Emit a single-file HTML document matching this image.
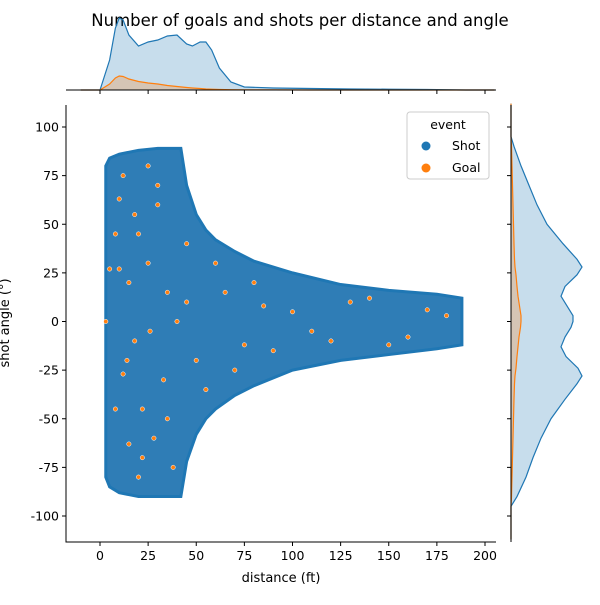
<!DOCTYPE html>
<html><head><meta charset="utf-8"><style>
body{margin:0;background:#fff}
svg text{font-family:"DejaVu Sans","Liberation Sans",sans-serif;fill:#000}
</style></head><body>
<svg width="600" height="600" xmlns="http://www.w3.org/2000/svg">
<text x="300" y="26" font-size="16.5" text-anchor="middle">Number of goals and shots per distance and angle</text>
<g id="main"></g>
<g id="topm"></g>
<g id="rightm"></g>
</svg>
<script>
const xTicks=[0,25,50,75,100,125,150,175,200];
const yTicks=[100,75,50,25,0,-25,-50,-75,-100];
const envDist=[3,5,10,20,30,42,45,50,55,60,70,80,100,125,150,175,188];
const envUpper=[80,84,86,88,89,89,70,55,47,42,36,31,25,19,16,14,12];
const envLower=[-80,-85,-88,-90,-90,-90,-72,-58,-50,-45,-38,-33,-25,-20,-17,-14,-12];
const goalDist=[3,5,8,10,12,15,18,20,22,25,28,30,33,35,38,40,12,15,20,25,30,35,45,50,60,70,80,90,100,120,140,160,180,45,55,65,75,85,110,130,150,170,8,10,14,18,22,26];
const goalAng=[0,27,45,63,75,20,-10,45,-45,30,-60,60,-30,15,-75,0,-27,-63,-80,80,70,-50,10,-20,30,-25,20,-15,5,-10,12,-8,3,40,-35,15,-12,8,-5,10,-12,6,-45,27,-20,55,-70,-5];
const kdeX=[-10,0,5,8,10,12,15,20,25,30,35,40,45,48,52,55,58,62,68,75,90,110,130,150,170,190,205];
const kdeShot=[0,0,30,62,72,70,55,44,48,50,54,55,46,44,48,48,40,22,8,3,2,1.5,1,0.8,0.5,0,0];
const kdeGoal=[0,0,6,12,14,13.5,11,8.5,7,6,4.5,3.5,2.5,2,1.5,1,0.8,0.5,0.3,0.2,0.1,0,0,0,0,0,0];
const kdeY=[112,95,90,80,70,60,50,40,32,28,24,18,13,8,3,0,-3,-8,-13,-18,-24,-28,-32,-40,-50,-60,-70,-80,-90,-95,-112];
const kdeShotR=[0,0,3,10,18,26,36,52,66,71,66,54,50,56,62,62,60,54,50,55,67,71,66,54,40,30,22,15,6,0,0];
const kdeGoalR=[0,0,0.5,1,1.5,2,2.5,3,3.5,4,5,6,7,8.5,10,10,9.5,8,7,6,5,4,3.5,3,2.5,2,1.5,1,0.5,0,0];
const NS="http://www.w3.org/2000/svg";
function mk(p,t,a){const e=document.createElementNS(NS,t);for(const k in a)e.setAttribute(k,a[k]);p.appendChild(e);return e;}
const X0=66,X1=496,Y0=105,Y1=542;
const sx=d=>100+d*1.925, sy=a=>321.5-a*1.945;
const mainG=document.getElementById('main');
let pts=envDist.map((d,i)=>sx(d)+','+sy(envUpper[i]));
for(let i=envDist.length-1;i>=0;i--)pts.push(sx(envDist[i])+','+sy(envLower[i]));
const env=mk(mainG,'polygon',{points:pts.join(' '),fill:'#2f7db6',stroke:'#1f77b4','stroke-width':3});


goalDist.forEach((d,i)=>{const c=mk(mainG,'circle',{cx:sx(d),cy:sy(goalAng[i]),r:2.2,fill:'#ff7f0e',stroke:'#fff','stroke-width':0.5});

});
const fr=mk(mainG,'path',{d:`M${X0},${Y0}V${Y1}H${X1}`,fill:'none',stroke:'#000','stroke-width':1});


xTicks.forEach(t=>{const x=sx(t);mk(mainG,'line',{x1:x,x2:x,y1:Y1,y2:Y1+4,stroke:'#000'});
const tx=mk(mainG,'text',{x:x,y:Y1+18,'font-size':12.5,'text-anchor':'middle'});tx.textContent=t;

});
yTicks.forEach(t=>{const y=sy(t);mk(mainG,'line',{x1:X0-4,x2:X0,y1:y,y2:y,stroke:'#000'});
const tx=mk(mainG,'text',{x:X0-7,y:y+4.5,'font-size':12.5,'text-anchor':'end'});tx.textContent=t;

});
const xl=mk(mainG,'text',{x:281,y:582,'font-size':13,'text-anchor':'middle'});xl.textContent='distance (ft)';


const yl=mk(mainG,'text',{x:9,y:323,'font-size':13,'text-anchor':'middle',transform:'rotate(-90 9 323)'});yl.textContent='shot angle (°)';


const lg=mk(mainG,'g',{});


mk(lg,'rect',{x:407,y:112,width:82,height:67,rx:3,fill:'#fff','fill-opacity':0.8,stroke:'#ccc'});
mk(lg,'text',{x:448,y:129,'font-size':12.5,'text-anchor':'middle'}).textContent='event';
[['Shot','#1f77b4',150],['Goal','#ff7f0e',172]].forEach(([n,c,y])=>{mk(lg,'circle',{cx:426,cy:y-4,r:4.5,fill:c});
const t=mk(lg,'text',{x:452,y:y,'font-size':12.5});t.textContent=n;

});
const topG=document.getElementById('topm');const TB=90,ts=v=>TB-v;
function areaTop(vals,col){let d=`M${sx(kdeX[0])},${TB}`;kdeX.forEach((x,i)=>d+=`L${sx(x)},${ts(vals[i])}`);
const line=kdeX.map((x,i)=>(i?'L':'M')+sx(x)+','+ts(vals[i])).join('');
mk(topG,'path',{d:d+`L${sx(kdeX[kdeX.length-1])},${TB}Z`,fill:col,'fill-opacity':0.25});
return mk(topG,'path',{d:line,fill:'none',stroke:col,'stroke-width':1.2});}
const a1=areaTop(kdeShot,'#1f77b4');


const a2=areaTop(kdeGoal,'#ff7f0e');


mk(topG,'line',{x1:X0,x2:X1,y1:TB,y2:TB,stroke:'#000'});
xTicks.forEach(t=>mk(topG,'line',{x1:sx(t),x2:sx(t),y1:TB,y2:TB+4,stroke:'#000'}));
const rightG=document.getElementById('rightm');const RB=511,rs=v=>RB+v;
function areaR(vals,col){const line=kdeY.map((y,i)=>(i?'L':'M')+rs(vals[i])+','+sy(y)).join('');
mk(rightG,'path',{d:`M${RB},${sy(kdeY[0])}`+line.replace('M','L')+`L${RB},${sy(kdeY[kdeY.length-1])}Z`,fill:col,'fill-opacity':0.25});
return mk(rightG,'path',{d:line,fill:'none',stroke:col,'stroke-width':1.2});}
const r1=areaR(kdeShotR,'#1f77b4');


const r2=areaR(kdeGoalR,'#ff7f0e');


mk(rightG,'line',{x1:RB,x2:RB,y1:Y0,y2:Y1,stroke:'#000'});
yTicks.forEach(t=>mk(rightG,'line',{x1:RB-4,x2:RB,y1:sy(t),y2:sy(t),stroke:'#000'}));
</script>
</body></html>
